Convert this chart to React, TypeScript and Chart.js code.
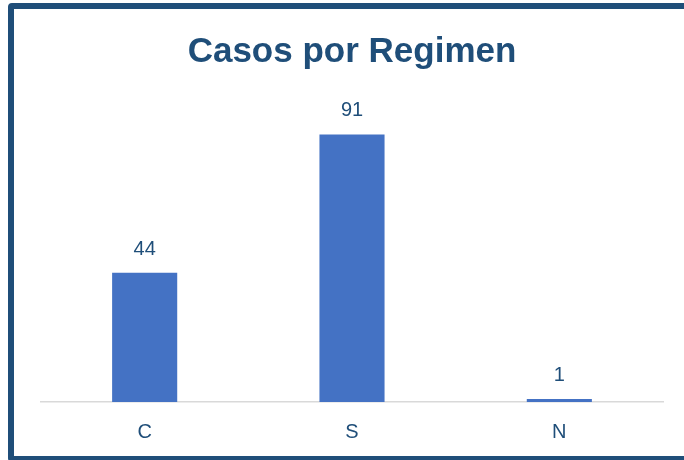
import React, { useEffect, useRef } from "react";
import { Chart, registerables } from "chart.js";

Chart.register(...registerables);

const categories = ["C", "S", "N"];
const casos = [44, 91, 1];
const yMax = 100;

const TEXT = "#1F4E79";
const BAR = "#4472C4";
const FONT = "'Liberation Sans', Arial, sans-serif";

const valueLabels = {
  id: "valueLabels",
  afterDatasetsDraw(chart: any) {
    const ctx = chart.ctx;
    ctx.save();
    ctx.font = `20px ${FONT}`;
    ctx.fillStyle = TEXT;
    ctx.textAlign = "center";
    ctx.textBaseline = "alphabetic";
    chart.data.datasets.forEach((ds: any, i: number) => {
      const meta = chart.getDatasetMeta(i);
      meta.data.forEach((bar: any, j: number) => {
        ctx.fillText(String(ds.data[j]), bar.x, bar.y - 18);
      });
    });
    ctx.restore();
  },
};

export default function App() {
  const ref = useRef<HTMLCanvasElement>(null);
  useEffect(() => {
    if (!ref.current) return;
    const chart = new Chart(ref.current, {
      type: "bar",
      data: {
        labels: categories,
        datasets: [
          {
            label: "Casos",
            data: casos,
            backgroundColor: BAR,
            categoryPercentage: 1,
            barPercentage: 0.314,
          },
        ],
      },
      options: {
        responsive: false,
        animation: false,
        devicePixelRatio: 1,
        layout: { padding: { left: 27, right: 25, top: 0, bottom: -6 } },
        plugins: {
          legend: { display: false },
          tooltip: { enabled: false },
          title: {
            display: true,
            text: "Casos por Regimen",
            color: TEXT,
            font: { family: FONT, size: 35, weight: "bold", lineHeight: 1.2 },
            padding: { top: 22, bottom: 35 },
          },
        },
        scales: {
          x: {
            grid: { display: false, drawTicks: false },
            border: { display: true, color: "#D9D9D9", width: 1.5 },
            ticks: {
              color: TEXT,
              font: { family: FONT, size: 20 },
              padding: 18,
            },
          },
          y: {
            display: false,
            min: 0,
            max: yMax,
          },
        },
      },
      plugins: [valueLabels],
    });
    return () => chart.destroy();
  }, []);

  return (
    <div
      style={{
        position: "fixed",
        left: 0,
        top: 0,
        width: 684,
        height: 460,
        overflow: "hidden",
        background: "#fff",
      }}
    >
      <div
        style={{
          position: "absolute",
          left: 8,
          top: 3,
          width: 680,
          height: 447,
          border: "6px solid #1F4E79",
          borderRadius: 4,
          background: "#fff",
        }}
      >
        <canvas ref={ref} width={674} height={447} style={{ display: "block" }} />
      </div>
    </div>
  );
}
